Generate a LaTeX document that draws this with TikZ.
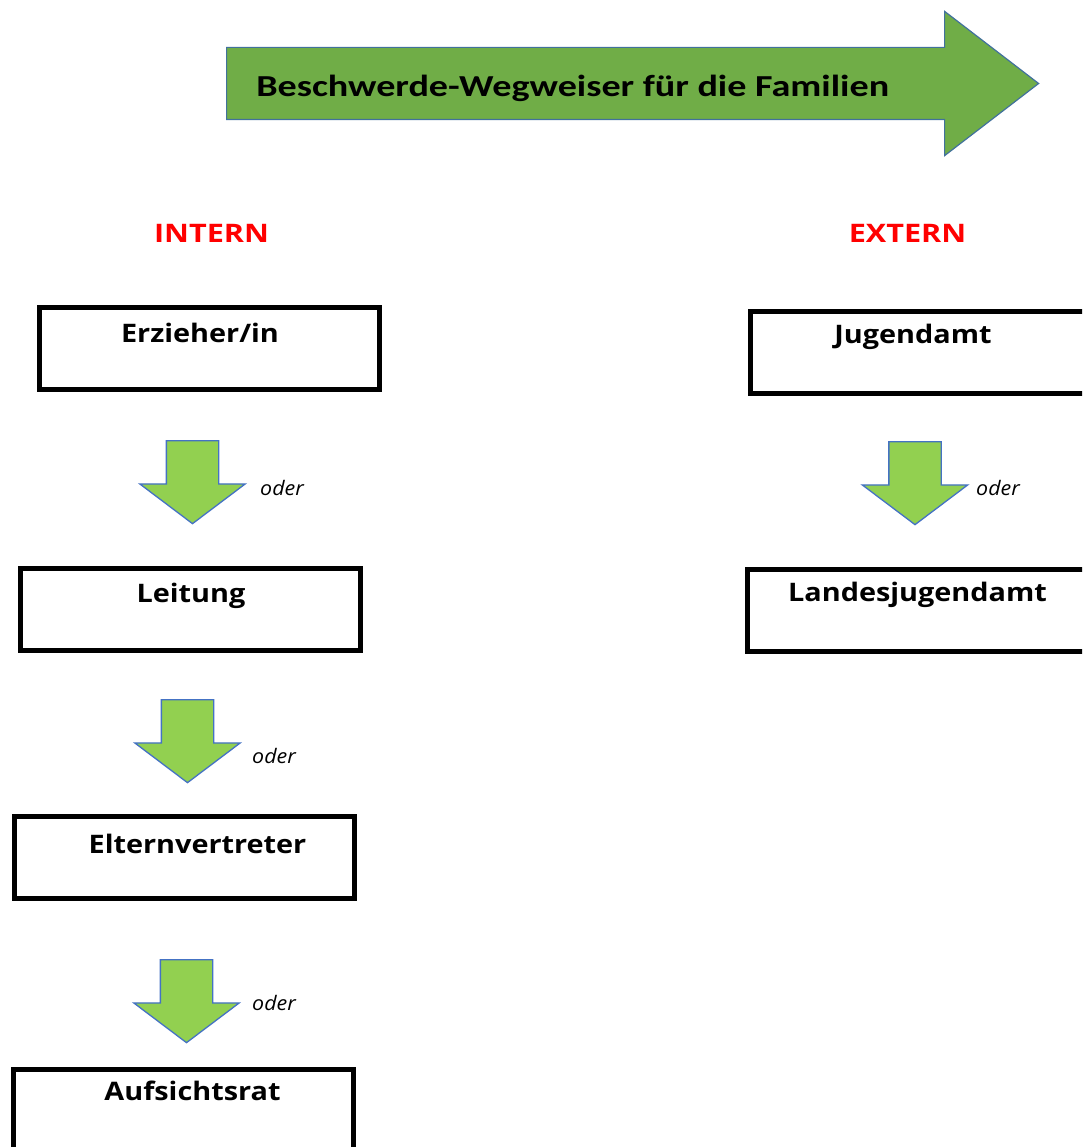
\documentclass[tikz,border=0pt]{standalone}
\usepackage{fontspec}
\setmainfont{Open Sans}
\newfontfamily\titlefont{Carlito}
\usetikzlibrary{shapes.arrows}

\definecolor{bannergreen}{HTML}{70AD47}
\definecolor{stepgreen}{HTML}{92D050}
\definecolor{edgeblue}{HTML}{4472C4}
\definecolor{bannerblue}{HTML}{41719C}

\begin{document}
\begin{tikzpicture}[x=1pt,y=-1pt,
  boxnode/.style={rectangle, draw=black, line width=5pt, fill=white, minimum width=340pt, minimum height=82pt, inner sep=0pt},
  boxlbl/.style={anchor=base, inner sep=0pt, xscale=1.13, transform shape, font=\fontsize{25.5}{30}\selectfont\bfseries},
  sidelbl/.style={anchor=base, inner sep=0pt, xscale=1.2, transform shape, text=red, font=\fontsize{25.5}{30}\selectfont\bfseries},
  oderlbl/.style={anchor=base west, inner sep=0pt, xscale=1.07, transform shape, font=\fontsize{20}{24}\selectfont\itshape},
  steparrow/.style={single arrow, rotate=-90, anchor=tail, draw=edgeblue, fill=stepgreen, line width=1.3pt,
    inner xsep=0pt, inner ysep=25.5pt, minimum height=83pt, single arrow head extend=26.5pt, single arrow tip angle=106},
  bannerarrow/.style={single arrow, anchor=tail, draw=bannerblue, fill=bannergreen, line width=1.2pt,
    inner xsep=0pt, inner ysep=35.5pt, minimum height=812pt, single arrow head extend=36pt, single arrow tip angle=75}]
  \useasboundingbox (0,0) rectangle (1082,1147);
  \clip (0,0) rectangle (1082,1147);
  \fill[white] (0,0) rectangle (1082,1147);

  % banner
  \node[bannerarrow] (banner) at (226,83.5) {};
  \node[anchor=base west, inner sep=0pt, xscale=1.25, transform shape, font=\titlefont\fontsize{30.5}{36}\selectfont\bfseries] (title) at (256,97) {Beschwerde-Wegweiser für die Familien};

  \node[sidelbl] (intern) at (211.5,243) {INTERN};
  \node[sidelbl] (extern) at (907.5,243) {EXTERN};

  % intern
  \node[boxnode] (erz) at (209.5,348.5) {};
  \node[boxlbl] (erzlbl) at (200,342) {Erzieher/in};
  \node[steparrow] (s1) at (192.5,440) {};
  \node[oderlbl] (o1) at (260,495) {oder};

  \node[boxnode] (leit) at (190.5,609) {};
  \node[boxlbl] (leitlbl) at (191,602) {Leitung};
  \node[steparrow] (s2) at (187.5,699) {};
  \node[oderlbl] (o2) at (252,763) {oder};

  \node[boxnode] (eltern) at (184,857.5) {};
  \node[boxlbl] (elternlbl) at (197.5,853) {Elternvertreter};
  \node[steparrow] (s3) at (186.5,959) {};
  \node[oderlbl] (o3) at (252,1010) {oder};

  \node[boxnode] (rat) at (183,1110.5) {};
  \node[boxlbl] (ratlbl) at (192.5,1100) {Aufsichtsrat};

  % extern
  \node[boxnode] (jug) at (920.5,352.5) {};
  \node[boxlbl] (juglbl) at (913,343) {Jugendamt};
  \node[steparrow] (s4) at (915,441) {};
  \node[oderlbl] (o4) at (976,495) {oder};

  \node[boxnode] (land) at (917.5,610) {};
  \node[boxlbl] (landlbl) at (917.5,601) {Landesjugendamt};
\end{tikzpicture}
\end{document}
